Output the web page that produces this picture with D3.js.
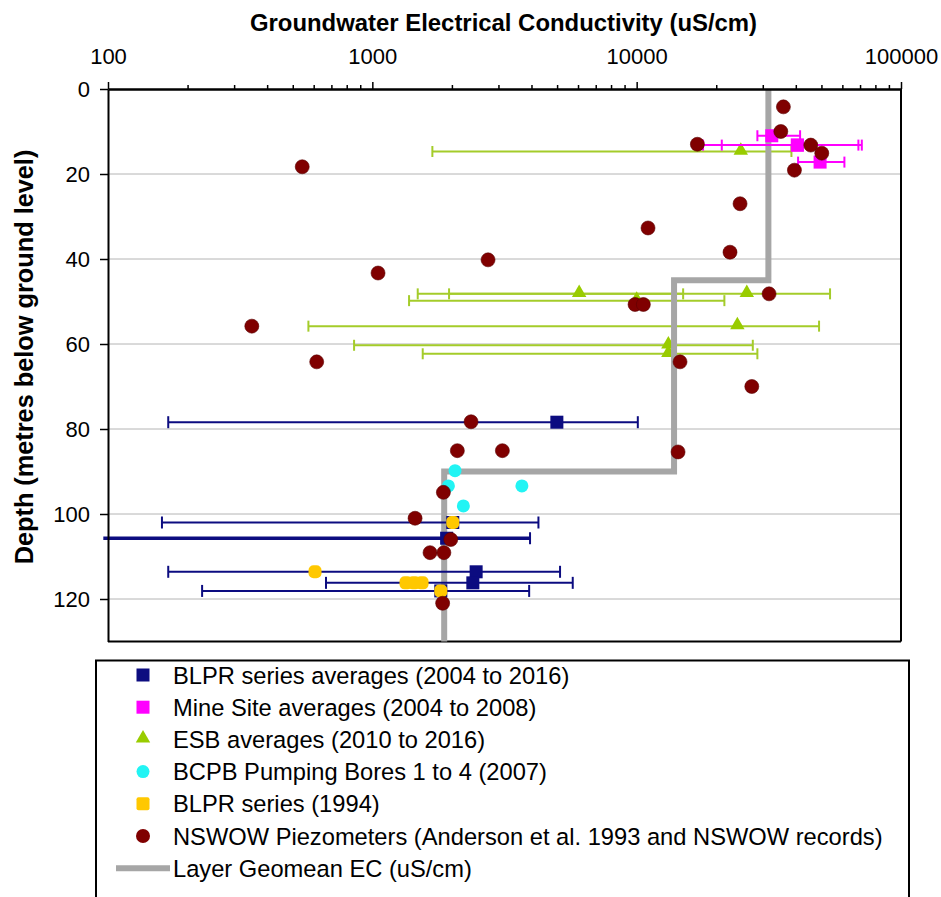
<!DOCTYPE html>
<html><head><meta charset="utf-8">
<script src="https://cdn.jsdelivr.net/npm/d3@7"></script>
<style>
html,body{margin:0;padding:0;background:#fff;}
svg{display:block;font-family:"Liberation Sans",Arial,sans-serif;}
</style></head>
<body><svg id="chart" width="941" height="897"></svg>
<script>
// ---------- data ----------
const xTickValues = [100, 1000, 10000, 100000];
const xTickLabels = ["100", "1000", "10000", "100000"];
const yTickValues = [0, 20, 40, 60, 80, 100, 120];

// Layer geomean EC step line
const geoDepth = [0, 45, 45, 90, 90, 130];
const geoEC    = [31500, 31500, 13850, 13850, 1870, 1870];

// BLPR series averages (2004 to 2016)
const blprDepth = [78.4, 102.0, 105.7, 113.6, 116.2, 118.1];
const blprEC    = [4990, 2015, 1910, 2470, 2400, 1815];
const blprLow   = [169, 160, 96, 169, 668, 227];
const blprHigh  = [10100, 4250, 3950, 5130, 5730, 3920];

// Mine Site averages (2004 to 2008)
const mineDepth = [11.0, 13.2, 13.2, 17.2];
const mineEC    = [32440, 40550, 40550, 49420];
const mineLow   = [28620, 17830, 20990, 40800];
const mineHigh  = [41520, 69000, 71080, 61080];

// ESB averages (2010 to 2016)
const esbDepth = [14.7, 48.2, 48.2, 49.8, 55.8, 60.3, 62.3];
const esbEC    = [24770, 6060, 26100, 10000, 24040, 13180, 13180];
const esbLow   = [1687, 1485, 1951, 1377, 573, 853, 1551];
const esbHigh  = [38500, 14990, 53900, 21470, 48980, 27500, 28620];

// BCPB Pumping Bores 1 to 4 (2007)
const bcpbDepth = [89.8, 93.4, 93.4, 98.1];
const bcpbEC    = [2055, 1940, 3680, 2210];

// BLPR series (1994)
const blpr94Depth = [102.0, 113.6, 116.2, 116.2, 116.2, 118.1];
const blpr94EC    = [2015, 607, 1341, 1438, 1542, 1815];

// NSWOW Piezometers
const nswowDepth = [4.2, 10.0, 13.0, 13.2, 15.1, 19.1, 18.3, 27.0, 32.7, 38.4, 40.2, 43.3, 48.2, 50.7, 50.7, 55.8, 64.2, 64.2, 70.0, 78.3, 85.1, 85.1, 85.4, 94.9, 101.0, 106.0, 109.1, 109.1, 121.0];
const nswowEC    = [35900, 35100, 16970, 45570, 50150, 39520, 543, 24610, 11040, 22550, 2740, 1051, 31690, 9860, 10600, 350, 616, 14590, 27260, 2363, 2097, 3104, 14340, 1857, 1451, 1980, 1653, 1865, 1845];

const legendLabels = [
  "BLPR series averages (2004 to 2016)",
  "Mine Site averages (2004 to 2008)",
  "ESB averages (2010 to 2016)",
  "BCPB Pumping Bores 1 to 4 (2007)",
  "BLPR series (1994)",
  "NSWOW Piezometers (Anderson et al. 1993 and NSWOW records)",
  "Layer Geomean EC (uS/cm)"
];

// ---------- drawing ----------
const C = {navy:"#0c0c80", magenta:"#ff00ff", green:"#99cc00", greenBar:"#a4cc2a", cyan:"#22f4f4", yellow:"#ffc800", red:"#800000", gray:"#a6a6a6"};
const svg = d3.select("#chart");
const L = 108, R = 901, T = 89, B = 641.5;
const x = d3.scaleLog().domain([100, 100000]).range([L, R]);
const y = d3.scaleLinear().domain([0, 130]).range([T, B]);

// gridlines
svg.append("g").selectAll("line").data(yTickValues.filter(v => v > 0)).join("line")
  .attr("x1", L).attr("x2", R).attr("y1", d => y(d)).attr("y2", d => y(d))
  .attr("stroke", "#b4b4b4").attr("stroke-width", 1);

// frame right/bottom
svg.append("line").attr("x1", R).attr("x2", R).attr("y1", T).attr("y2", B).attr("stroke", "#000").attr("stroke-width", 2);
svg.append("line").attr("x1", L).attr("x2", R).attr("y1", B).attr("y2", B).attr("stroke", "#000").attr("stroke-width", 2);

function zip(a, b, c, d) { return a.map((v, i) => ({depth: v, ec: b[i], low: c ? c[i] : null, high: d ? d[i] : null})); }

function errorBars(data, color, capH) {
  const g = svg.append("g");
  data.forEach(d => {
    const yy = y(d.depth);
    const below = d.low < x.domain()[0];
    g.append("line").attr("x1", x(d.low)).attr("x2", x(d.high)).attr("y1", yy).attr("y2", yy)
      .attr("stroke", color).attr("stroke-width", below ? 3.5 : 2);
    if (!below) g.append("line").attr("x1", x(d.low)).attr("x2", x(d.low)).attr("y1", yy - capH).attr("y2", yy + capH).attr("stroke", color).attr("stroke-width", 2);
    g.append("line").attr("x1", x(d.high)).attr("x2", x(d.high)).attr("y1", yy - capH).attr("y2", yy + capH).attr("stroke", color).attr("stroke-width", 2);
  });
}

const blpr = zip(blprDepth, blprEC, blprLow, blprHigh);
const mine = zip(mineDepth, mineEC, mineLow, mineHigh);
const esb = zip(esbDepth, esbEC, esbLow, esbHigh);

// ESB bars and triangles (under the geomean line)
errorBars(esb, C.greenBar, 5.5);
svg.append("g").selectAll("path").data(esb).join("path")
  .attr("d", d3.symbol(d3.symbolTriangle, 90))
  .attr("transform", d => `translate(${x(d.ec)},${y(d.depth) - 1})`)
  .attr("fill", C.green);

// geomean line
const geo = geoDepth.map((d, i) => ({depth: d, ec: geoEC[i]}));
svg.append("path").datum(geo)
  .attr("d", d3.line().x(d => x(d.ec)).y(d => y(d.depth)))
  .attr("fill", "none").attr("stroke", C.gray).attr("stroke-width", 6).attr("stroke-linejoin", "miter");

// BLPR averages
errorBars(blpr, C.navy, 6);
svg.append("g").selectAll("rect").data(blpr).join("rect")
  .attr("x", d => x(d.ec) - 6.5).attr("y", d => y(d.depth) - 6.5).attr("width", 13).attr("height", 13)
  .attr("fill", C.navy);

// Mine site
errorBars(mine, C.magenta, 5.5);
svg.append("g").selectAll("rect").data(mine).join("rect")
  .attr("x", d => x(d.ec) - 6.5).attr("y", d => y(d.depth) - 6.5).attr("width", 13).attr("height", 13)
  .attr("fill", C.magenta);

// BCPB
svg.append("g").selectAll("circle").data(zip(bcpbDepth, bcpbEC)).join("circle")
  .attr("cx", d => x(d.ec)).attr("cy", d => y(d.depth)).attr("r", 6.5).attr("fill", C.cyan);

// BLPR 1994
svg.append("g").selectAll("rect").data(zip(blpr94Depth, blpr94EC)).join("rect")
  .attr("x", d => x(d.ec) - 6.5).attr("y", d => y(d.depth) - 6.5).attr("width", 13).attr("height", 13)
  .attr("rx", 5).attr("fill", C.yellow);

// NSWOW
svg.append("g").selectAll("circle").data(zip(nswowDepth, nswowEC)).join("circle")
  .attr("cx", d => x(d.ec)).attr("cy", d => y(d.depth)).attr("r", 7).attr("fill", C.red)
  .attr("stroke", "#5a0000").attr("stroke-width", 0.6);

// axes
const minorVals = [];
xTickValues.slice(0, -1).forEach(v => { for (let k = 2; k <= 9; k++) minorVals.push(v * k); });
const gMinor = svg.append("g").attr("transform", `translate(0,${T})`)
  .call(d3.axisTop(x).tickValues(minorVals).tickSize(4).tickSizeOuter(0).tickFormat(""));
const gTop = svg.append("g").attr("transform", `translate(0,${T})`)
  .call(d3.axisTop(x).tickValues(xTickValues).tickSize(7).tickSizeOuter(0).tickPadding(18)
    .tickFormat((d, i) => xTickLabels[i]));
const gLeft = svg.append("g").attr("transform", `translate(${L},0)`)
  .call(d3.axisLeft(y).tickValues(yTickValues).tickSize(8).tickSizeOuter(0).tickPadding(10));
[gMinor, gTop, gLeft].forEach(g => {
  g.selectAll("path.domain").attr("stroke", "#000").attr("stroke-width", 2);
  g.selectAll(".tick line").attr("stroke", "#000").attr("stroke-width", 1.5);
  g.selectAll("text").attr("font-size", 22).attr("fill", "#000")
    .attr("font-family", '"Liberation Sans", Arial, sans-serif');
});
gTop.selectAll("text").attr("dy", 0);

// titles
svg.append("text").attr("x", (L + R) / 2 - 1).attr("y", 31).attr("text-anchor", "middle")
  .attr("font-size", 23.9).attr("font-weight", "bold").text("Groundwater Electrical Conductivity (uS/cm)");
svg.append("text").attr("transform", `translate(33,357) rotate(-90)`).attr("text-anchor", "middle")
  .attr("font-size", 25.3).attr("font-weight", "bold").text("Depth (metres below ground level)");

// legend
svg.append("rect").attr("x", 96).attr("y", 660.5).attr("width", 813).attr("height", 300)
  .attr("fill", "#fff").attr("stroke", "#000").attr("stroke-width", 2);
const lg = svg.append("g");
const rowY = i => 675 + i * 32.2;
const mx = 143;
legendLabels.forEach((lab, i) => {
  lg.append("text").attr("x", 173).attr("y", rowY(i)).attr("dy", "0.36em")
    .attr("font-size", 23.7).attr("fill", "#000").text(lab);
});
lg.append("rect").attr("x", mx - 6.5).attr("y", rowY(0) - 6.5).attr("width", 13).attr("height", 13).attr("fill", C.navy);
lg.append("rect").attr("x", mx - 6.5).attr("y", rowY(1) - 6.5).attr("width", 13).attr("height", 13).attr("fill", C.magenta);
lg.append("path").attr("d", d3.symbol(d3.symbolTriangle, 90)).attr("transform", `translate(${mx},${rowY(2) - 1})`).attr("fill", C.green);
lg.append("circle").attr("cx", mx).attr("cy", rowY(3)).attr("r", 6.5).attr("fill", C.cyan);
lg.append("rect").attr("x", mx - 6.5).attr("y", rowY(4) - 6.5).attr("width", 13).attr("height", 13).attr("rx", 2).attr("fill", C.yellow);
lg.append("circle").attr("cx", mx).attr("cy", rowY(5)).attr("r", 7).attr("fill", C.red);
lg.append("line").attr("x1", 116).attr("x2", 170).attr("y1", rowY(6)).attr("y2", rowY(6)).attr("stroke", C.gray).attr("stroke-width", 6);
</script></body></html>
